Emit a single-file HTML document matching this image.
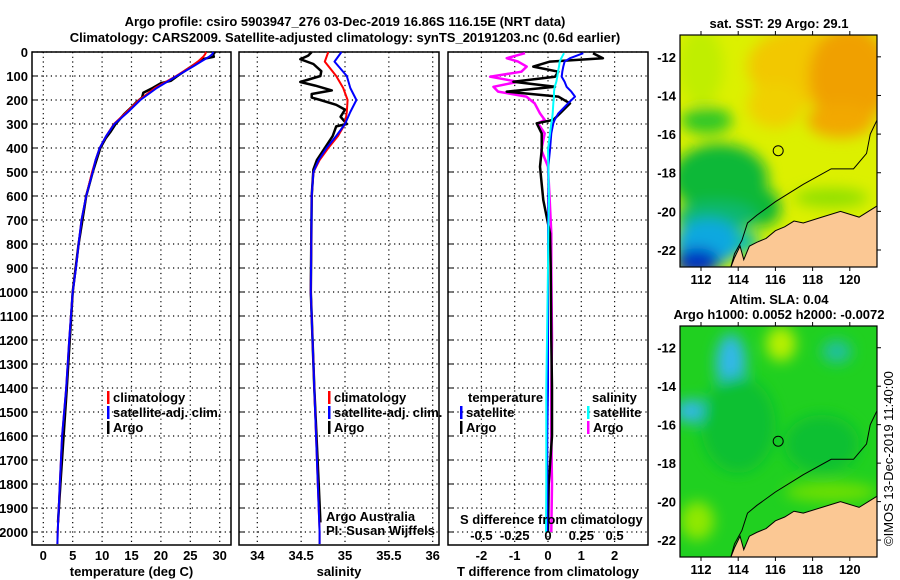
<!DOCTYPE html>
<html><head><meta charset="utf-8"><style>
body{margin:0;background:#fff;}
svg{display:block;font-family:"Liberation Sans",sans-serif;}
.b{font-weight:bold;font-size:13px;}
</style></head><body>
<svg id="c" width="900" height="580" viewBox="0 0 900 580">
<text class="b" x="345" y="26" text-anchor="middle" font-size="14">Argo profile: csiro 5903947_276 03-Dec-2019 16.86S 116.15E (NRT data)</text>
<text class="b" x="345" y="42" text-anchor="middle" font-size="14">Climatology: CARS2009. Satellite-adjusted climatology: synTS_20191203.nc (0.6d earlier)</text>
<g id="p"></g>
</svg>
<script>
// ---- data ----
const depthTicks=[0,100,200,300,400,500,600,700,800,900,1000,1100,1200,1300,1400,1500,1600,1700,1800,1900,2000];
const tTicks=[0,5,10,15,20,25,30];
const sTicks=[34,34.5,35,35.5,36];
const dTicks=[-2,-1,0,1,2];
const sdTickLabels=["-0.5","-0.25","0","0.25","0.5"];
// temperature profiles (depth, value)
const tDepth=[0,10,20,40,60,100,150,200,250,300,350,400,450,500,600,700,800,900,1000,1200,1400,1600,1800,2000,2050];
const tClim=[27.7,27.5,27.2,26.3,25.2,22.6,19.0,16.3,14.2,12.0,10.7,9.6,8.9,8.3,7.3,6.5,6.0,5.55,5.0,4.4,3.9,3.2,2.8,2.45,2.4];
const tSat=[28.9,28.7,28.2,26.8,25.5,22.7,19.3,16.5,14.4,12.1,10.7,9.6,8.9,8.4,7.3,6.5,6.0,5.56,5.0,4.4,3.9,3.2,2.8,2.45,2.4];
const tArgoDepth=[0,10,20,30,50,80,100,120,130,150,170,190,210,230,260,300,330,360,400,500,600,800,1000,1400,1800,1960];
const tArgo=[29.2,28.9,29.0,27.0,25.8,24.0,22.8,21.7,20.0,18.6,17.0,16.8,15.8,15.0,13.7,12.3,11.5,10.6,9.7,8.4,7.3,6.0,5.0,4.0,2.9,2.5];
// salinity
const sDepth=[0,40,100,150,200,250,300,350,400,450,500,600,1000,1400,1800,2000,2050];
const sClim=[34.81,34.77,34.9,34.98,35.03,35.02,35.0,34.92,34.81,34.71,34.64,34.62,34.61,34.65,34.69,34.71,34.71];
const sSat=[34.96,34.88,35.02,35.06,35.13,35.06,35.0,34.9,34.79,34.7,34.64,34.62,34.61,34.65,34.69,34.71,34.71];
const sArgoDepth=[0,15,30,50,80,100,125,140,160,175,190,200,220,240,270,300,310,350,400,450,490,600,1000,1400,1800,1960];
const sArgo=[34.62,34.58,34.49,34.64,34.73,34.72,34.49,34.66,34.85,34.62,34.62,34.72,34.9,35.0,34.95,35.02,34.9,34.86,34.77,34.68,34.64,34.62,34.61,34.65,34.7,34.72];
// differences (T units; S diff scaled x4)
const dDepth=[5,26,40,61,82,103,124,145,165,186,214,256,283,297,339,408,478,617,756,894,1200,1400,1600,1800,2000];
const dTArgo=[1.35,1.65,0.06,-0.44,0.31,0.21,-1.04,0.21,-1.24,0.31,0.66,0.36,0.16,-0.34,-0.19,-0.19,-0.24,-0.14,0.06,0.08,0.1,0.12,0.12,0.02,0.0];
const dTSat=[1.06,0.66,0.5,0.46,0.43,0.41,0.5,0.56,0.7,0.81,0.6,0.31,0.2,0.16,0.1,0.06,0.01,0.01,0.0,0.0,0.0,0.0,-0.02,-0.02,-0.02];
const dSSat=[0.48,0.4,0.35,0.33,0.3,0.28,0.25,0.2,0.18,0.18,0.16,0.14,0.12,0.1,0.06,0.0,0.01,0.03,0.01,0.0,-0.03,-0.05,-0.05,-0.05,-0.06];
const dSArgo=[-0.69,-1.24,-0.9,-0.64,-0.8,-1.74,-0.9,-1.64,-1.5,-0.65,-0.4,-0.24,-0.1,-0.3,-0.1,-0.2,0.0,0.05,0.1,0.1,0.12,0.1,0.1,0.12,0.1];

// ---- helpers ----
const NS="http://www.w3.org/2000/svg";
const G=document.getElementById('p');
function mk(tag,at,parent){const e=document.createElementNS(NS,tag);for(const k in at)e.setAttribute(k,at[k]);(parent||G).appendChild(e);return e;}
const Y0=52,YS=0.24;
const yD=d=>Y0+d*YS;
const panels=[
 {x0:32,x1:231,fx:v=>43.3+v*5.88,ticks:tTicks,title:"temperature (deg C)",name:"temperature"},
 {x0:239,x1:439,fx:v=>257.3+(v-34)*87.7,ticks:sTicks,title:"salinity",name:"salinity"},
 {x0:448,x1:648,fx:v=>548+v*33.3,ticks:dTicks,title:"T difference from climatology",name:"difference"}];
panels.forEach((P,i)=>{
 const g=mk('g',{});
 
 
 depthTicks.forEach(d=>{
  const l=mk('line',{x1:P.x0,x2:P.x1,y1:yD(d),y2:yD(d),stroke:'#000','stroke-dasharray':'1.2 3.5','stroke-width':1.2},g);
  
  
  mk('line',{x1:P.x0,x2:P.x0+5,y1:yD(d),y2:yD(d),stroke:'#000'},g);
 });
 P.ticks.forEach((t,j)=>{
  const x=P.fx(t);
  const l=mk('line',{x1:x,x2:x,y1:52,y2:545,stroke:'#000','stroke-dasharray':'1.2 3.5','stroke-width':1.2},g);
  
  
  const tx=mk('text',{x:x,y:560,'text-anchor':'middle',class:'b'},g);
  tx.textContent=String(t);
  
  
 });
 const r=mk('rect',{x:P.x0,y:52,width:P.x1-P.x0,height:493,fill:'none',stroke:'#000','stroke-width':1.5},g);
 
 
 const at=mk('text',{x:(P.x0+P.x1)/2,y:576,'text-anchor':'middle',class:'b'},g);
 at.textContent=P.title;
 
 
});
depthTicks.forEach(d=>{
 const t=mk('text',{x:28,y:yD(d)+5,'text-anchor':'end',class:'b'});
 t.textContent=String(d);
 
 
});
function line(P,ds,vs,col,w,name){
 const pts=ds.map((d,i)=>P.fx(vs[i]).toFixed(1)+','+yD(d).toFixed(1)).join(' ');
 const e=mk('polyline',{points:pts,fill:'none',stroke:col,'stroke-width':w,'stroke-linejoin':'round'});
 
 
}
const [P1,P2,P3]=panels;
line(P1,tArgoDepth,tArgo,'#000',2.5,'temp-argo-line');
line(P1,tDepth,tClim,'#f00',2,'temp-climatology-line');
line(P1,tDepth,tSat,'#00f',2,'temp-satellite-line');
line(P2,sArgoDepth,sArgo,'#000',2.5,'sal-argo-line');
line(P2,sDepth,sClim,'#f00',2,'sal-climatology-line');
line(P2,sDepth,sSat,'#00f',2,'sal-satellite-line');
line(P3,dDepth,dSArgo,'#f0f',2.5,'sdiff-argo-line');
line(P3,dDepth,dTArgo,'#000',2.5,'tdiff-argo-line');
line(P3,dDepth,dTSat,'#00f',2,'tdiff-satellite-line');
line(P3,dDepth,dSSat,'#0ff',2,'sdiff-satellite-line');
// legends
function leg(x,y,col,txt,name){
 const g=mk('g',{});
 
 
 mk('rect',{x:x,y:y-11,width:2.5,height:13,fill:col},g);
 const t=mk('text',{x:x+6,y:y,class:'b','font-size':'12.5'},g);t.textContent=txt;
}
leg(107,402,'#f00','climatology','legend-climatology');
leg(107,417,'#00f','satellite-adj. clim.','legend-satellite-adj');
leg(107,432,'#000','Argo','legend-argo');
leg(328,402,'#f00','climatology','legend-sal-climatology');
leg(328,417,'#00f','satellite-adj. clim.','legend-sal-satellite-adj');
leg(328,432,'#000','Argo','legend-sal-argo');
leg(460,417,'#00f','satellite','legend-t-satellite');
leg(460,432,'#000','Argo','legend-t-argo');
leg(587,417,'#0ff','satellite','legend-s-satellite');
leg(587,432,'#f0f','Argo','legend-s-argo');
function txt(x,y,s,cls,name,extra){const t=mk('text',Object.assign({x:x,y:y,class:cls||'b'},extra||{}));t.textContent=s;return t;}
txt(468,402,'temperature','b','legend-temperature-header');
txt(592,402,'salinity','b','legend-salinity-header');
txt(326,521,'Argo Australia','','credit-line-1',{'font-size':'12'});
txt(326,535,'PI: Susan Wijffels','','credit-line-2',{'font-size':'12'});
txt(460,524,'S difference from climatology','b','s-diff-axis-title');
sdTickLabels.forEach((s,i)=>{txt(P3.fx(dTicks[i]),540,s,'b','s-diff-tick-label',{'text-anchor':'middle'});});
</script>
<script>
// ---- maps ----
const lonTicks=[112,114,116,118,120];
const latTicks=[-12,-14,-16,-18,-20,-22];
const land=[[121.5,-19.7],[120.5,-20.3],[119.5,-20.0],[118.5,-20.3],[117.5,-20.6],[117,-20.5],[116.5,-20.8],[116,-21.0],[115.5,-21.4],[115,-21.6],[114.6,-21.8],[114.3,-22.5],[114.1,-21.8],[113.8,-22.4],[113.6,-22.9],[121.5,-22.9]];
const shelf=[[121.5,-15.2],[121.1,-16.0],[120.9,-17.0],[120.2,-17.8],[119,-17.8],[117.5,-18.6],[116,-19.5],[115,-20.2],[114.5,-20.6],[114.2,-21.5],[113.8,-22.2],[113.6,-22.9]];
const floatLon=116.15, floatLat=-16.86;
function map(top,bot,latTop,latBot,blobs,base,titles,name){
 const x0=680,x1=877;
 const fx=l=>701+(l-112)*18.6;
 const fy=la=>top+(la-latTop)/(latBot-latTop)*(bot-top);
 const g=mk('g',{});
 
 
 const id='cl'+top;
 const d=mk('defs',{},g);
 const cp=mk('clipPath',{id:id},d);mk('rect',{x:x0,y:top,width:x1-x0,height:bot-top},cp);
 const f=mk('filter',{id:'bl'+top,x:'-50%',y:'-50%',width:'200%',height:'200%'},d);mk('feGaussianBlur',{stdDeviation:7},f);
 const ig=mk('g',{'clip-path':'url(#'+id+')'},g);
 mk('rect',{x:x0,y:top,width:x1-x0,height:bot-top,fill:base},ig);
 const bg=mk('g',{filter:'url(#bl'+top+')'},ig);
 blobs.forEach(b=>mk('ellipse',{cx:fx(b[0]),cy:fy(b[1]),rx:b[2]*18.6,ry:b[3]*19.3,fill:b[4]},bg));
 const lp=mk('polygon',{points:land.map(p=>fx(p[0])+','+fy(p[1])).join(' '),fill:'#fbc894',stroke:'#000','stroke-width':1},ig);
 
 
 mk('polyline',{points:shelf.map(p=>fx(p[0])+','+fy(p[1])).join(' '),fill:'none',stroke:'#000','stroke-width':1},ig);
 const c=mk('circle',{cx:fx(floatLon),cy:fy(floatLat),r:5,fill:'none',stroke:'#000','stroke-width':1},g);
 
 
 mk('rect',{x:x0,y:top,width:x1-x0,height:bot-top,fill:'none',stroke:'#000','stroke-width':1.2},g);
 lonTicks.forEach(l=>{mk('line',{x1:fx(l),x2:fx(l),y1:top-4,y2:top,stroke:'#000'},g);mk('line',{x1:fx(l),x2:fx(l),y1:bot,y2:bot+4,stroke:'#000'},g);
  const t=mk('text',{x:fx(l),y:bot+17,'text-anchor':'middle',class:'b'},g);t.textContent=l;});
 latTicks.forEach(l=>{mk('line',{x1:x1,x2:x1+4,y1:fy(l),y2:fy(l),stroke:'#000'},g);
  const t=mk('text',{x:676,y:fy(l)+5,'text-anchor':'end',class:'b'},g);t.textContent=l;});
 titles.forEach((s,i)=>{const t=mk('text',{x:779,y:top-titles.length*15+12+i*15-4,'text-anchor':'middle',class:'b'},g);t.textContent=s;});
}
map(35,267,-10.87,-22.88,[
 [117.5,-12.5,3.0,2.0,'#f2c800'],[120,-13,2.2,2.6,'#f0a000'],[119.5,-15.3,1.8,0.9,'#f2a800'],[116,-14.5,1.5,1.2,'#f0d000'],
 [112,-12.5,1.2,2.0,'#c0ee00'],[112.3,-15.3,1.4,0.7,'#30c828'],
 [113,-18.3,2.6,1.8,'#10b838'],[115.3,-19.8,1.0,1.0,'#10b838'],[112.8,-20.3,2.2,0.8,'#10b870'],
 [112.4,-21.6,1.8,1.2,'#10a8e0'],[111.8,-22.6,1.2,0.7,'#0030c0'],[114.5,-21.6,0.6,0.6,'#10c0a0'],[119,-19.3,2,0.5,'#90e000']],
 '#dcf000',['sat. SST: 29 Argo: 29.1'],'sst-map');
map(326,557,-10.87,-22.88,[
 [113.6,-12.8,0.8,1.5,'#30b8e8'],[111.5,-15.3,0.9,0.6,'#30b8e8'],[116.3,-11.8,0.8,0.9,'#b8f000'],
 [119.3,-12.2,0.8,0.6,'#20c0a0'],[111.8,-21,0.9,1.0,'#90e800'],[119,-19.5,2.5,0.5,'#70e000'],
 [114,-16,2,2.5,'#10c030'],[118.5,-17,2,1.5,'#10c030']],
 '#20d020',['Altim. SLA: 0.04','Argo h1000: 0.0052 h2000: -0.0072'],'sla-map');
const cr=document.createElementNS(NS,'text');
cr.setAttribute('transform','translate(893,546) rotate(-90)');
cr.setAttribute('font-size','13');
cr.textContent='©IMOS 13-Dec-2019 11:40:00';


G.appendChild(cr);
</script>
</body></html>
